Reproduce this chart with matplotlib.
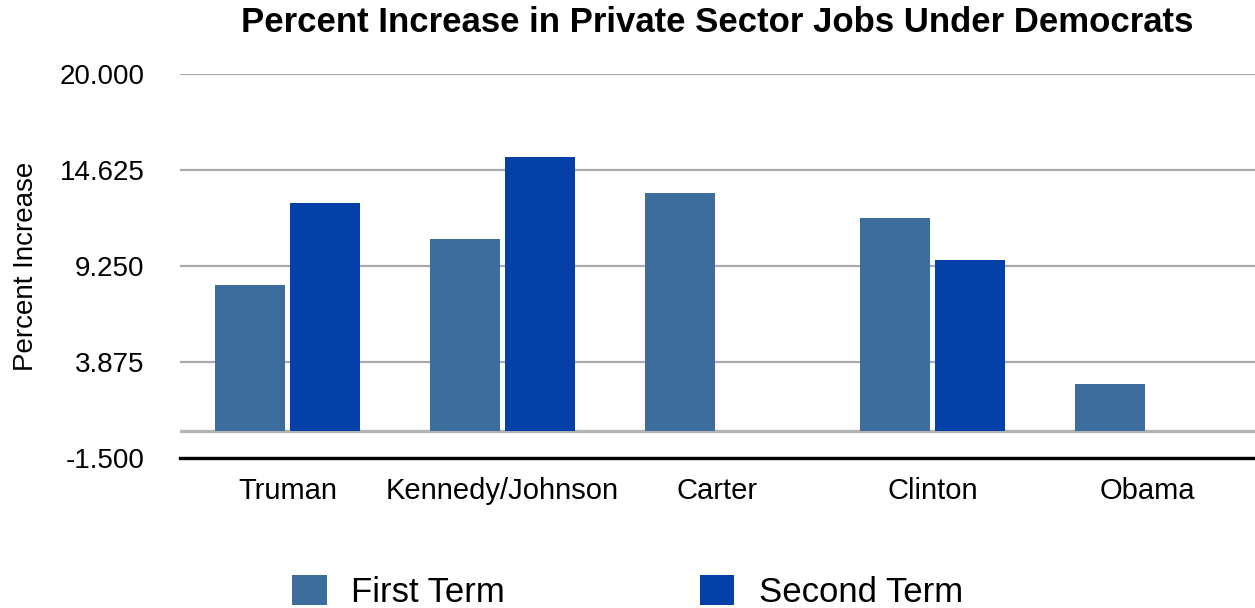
import numpy as np
import matplotlib
matplotlib.use("Agg")
import matplotlib.pyplot as plt

plt.rcParams['font.family'] = ['Liberation Sans', 'DejaVu Sans']

presidents = ['Truman', 'Kennedy/Johnson', 'Carter', 'Clinton', 'Obama']
first_term = [8.20, 10.78, 13.35, 11.95, 2.66]
second_term = [12.79, 15.37, np.nan, 9.60, np.nan]
yticks = [-1.5, 3.875, 9.25, 14.625, 20.0]

c_first = '#3D6D9D'
c_second = '#0341A9'

fig = plt.figure(figsize=(12.55, 6.08), dpi=100)
ax = fig.add_axes([180 / 1255, 150 / 608, 1075 / 1255, 384 / 608])

x = np.arange(len(presidents))
w = 0.326
ax.bar(x - 0.174, first_term, w, color=c_first, label='First Term', zorder=3)
ax.bar(x + 0.174, second_term, w, color=c_second, label='Second Term', zorder=3)

ax.set_xlim(-0.5, len(presidents) - 0.5)
ax.set_ylim(-1.5, 20)
ax.set_yticks(yticks)
ax.set_yticklabels(['%.3f' % v for v in yticks])
ax.set_xticks(x)
ax.set_xticklabels(presidents)
ax.tick_params(axis='y', length=0, pad=25.5, labelsize=20)
ax.tick_params(axis='x', length=0, pad=14, labelsize=21)

ax.yaxis.grid(True, color='#aaaaaa', linewidth=1.6)
ax.set_axisbelow(True)
ax.axhline(0, color='#b4b4b4', linewidth=2.4, zorder=2)

for s in ['left', 'right', 'top']:
    ax.spines[s].set_visible(False)
ax.spines['bottom'].set_color('black')
ax.spines['bottom'].set_linewidth(2.4)

ax.set_ylabel('Percent Increase', fontsize=20)
ax.yaxis.set_label_coords(-0.131, 0.5)

fig.text(0.5717, 1 - 22 / 608, 'Percent Increase in Private Sector Jobs Under Democrats',
         ha='center', va='center', fontsize=25, fontweight='bold')

fig.legend(loc='center', bbox_to_anchor=(0.5, 1 - 592 / 608), ncol=2, frameon=False,
           fontsize=25, handlelength=1.0, handleheight=0.95, handletextpad=0.7,
           columnspacing=5.6)

fig.savefig('out.png', dpi=100)
